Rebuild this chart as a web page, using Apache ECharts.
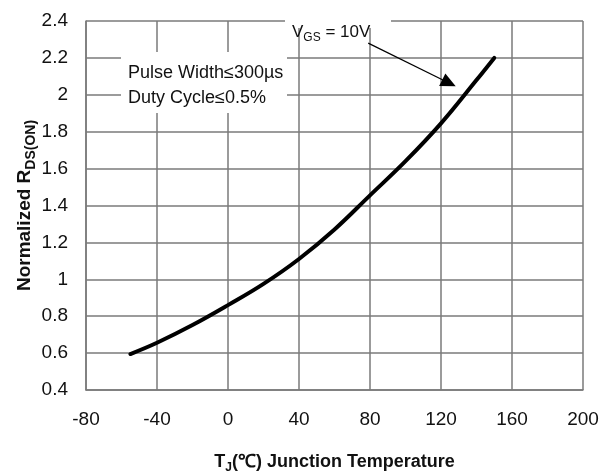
<!DOCTYPE html>
<html>
<head>
<meta charset="utf-8">
<script src="https://cdn.jsdelivr.net/npm/echarts@6/dist/echarts.min.js"></script>
<style>
html,body{margin:0;padding:0;background:#fff;}
#chart{width:611px;height:471px;}
</style>
</head>
<body>
<div id="chart"></div>
<script>
// Data
var temps = [-55, -40, -20, 0, 20, 40, 60, 80, 100, 120, 140, 150];
var rdsNorm = [0.595, 0.656, 0.752, 0.86, 0.975, 1.11, 1.27, 1.455, 1.64, 1.845, 2.08, 2.2];
var xTicks = { min: -80, max: 200, step: 40 };
var yTicks = { min: 0.4, max: 2.4, step: 0.2 };
var arrowFrom = [79, 2.28];
var arrowTo = [124.5, 2.064];
var noteLines = ['Pulse Width≤300µs', 'Duty Cycle≤0.5%'];

var FONT = '"Liberation Sans", Arial, Helvetica, sans-serif';
var GRID = '#7a7a7a';

var chart = echarts.init(document.getElementById('chart'), null, { renderer: 'canvas' });

var option = {
  backgroundColor: '#ffffff',
  animation: false,
  grid: { left: 86, top: 21, right: 28, bottom: 81, show: false, containLabel: false, outerBoundsMode: 'none' },
  xAxis: {
    type: 'value',
    min: xTicks.min, max: xTicks.max, interval: xTicks.step,
    name: '{m|T}{s|J}{m|(℃) Junction Temperature}',
    nameLocation: 'middle',
    nameGap: 60,
    nameTextStyle: {
      rich: {
        m: { fontFamily: FONT, fontSize: 18, fontWeight: 'bold', color: '#111', lineHeight: 24, verticalAlign: 'middle' },
        s: { fontFamily: FONT, fontSize: 12, fontWeight: 'bold', color: '#111', lineHeight: 24, verticalAlign: 'bottom' }
      }
    },
    axisLine: { show: true, onZero: false, lineStyle: { color: GRID, width: 1.5 } },
    axisTick: { show: false },
    axisLabel: { fontFamily: FONT, fontSize: 19, color: '#111', margin: 20 },
    splitLine: { show: true, lineStyle: { color: GRID, width: 1.5 } }
  },
  yAxis: {
    type: 'value',
    min: yTicks.min, max: yTicks.max, interval: yTicks.step,
    name: '{m|Normalized R}{s|DS(ON)}',
    nameLocation: 'middle',
    nameGap: 48,
    nameMoveOverlap: false,
    nameTextStyle: {
      rich: {
        m: { fontFamily: FONT, fontSize: 19, fontWeight: 'bold', color: '#111', lineHeight: 26, verticalAlign: 'middle' },
        s: { fontFamily: FONT, fontSize: 14, fontWeight: 'bold', color: '#111', lineHeight: 26, verticalAlign: 'bottom' }
      }
    },
    axisLine: { show: true, onZero: false, lineStyle: { color: GRID, width: 1.5 } },
    axisTick: { show: false },
    axisLabel: {
      fontFamily: FONT, fontSize: 19, color: '#111', margin: 18,
      formatter: function (v) { return String(parseFloat(v.toFixed(1))); }
    },
    splitLine: { show: true, lineStyle: { color: GRID, width: 1.5 } }
  },
  series: [{
    type: 'line',
    data: temps.map(function (t, i) { return [t, rdsNorm[i]]; }),
    smooth: 0.4,
    showSymbol: false,
    lineStyle: { color: '#000', width: 4, cap: 'round' },
    z: 5,
    markLine: {
      silent: true,
      symbol: ['none', 'triangle'],
      symbolSize: [14, 15],
      label: { show: false },
      lineStyle: { color: '#000', width: 1.2, type: 'solid' },
      data: [[{ coord: arrowFrom }, { coord: arrowTo }]]
    }
  }],
  graphic: [
    { type: 'rect', left: 121, top: 52, shape: { width: 166, height: 61 }, style: { fill: '#fff' }, z: 10, silent: true },
    { type: 'text', left: 128, top: 61, z: 11, silent: true,
      style: { text: noteLines.join('\n'), font: '18px ' + FONT, fill: '#111', lineHeight: 25 } },
    { type: 'rect', left: 285, top: 14, shape: { width: 106, height: 14 }, style: { fill: '#fff' }, z: 10, silent: true },
    { type: 'text', left: 292, top: 24, z: 11, silent: true,
      style: {
        text: '{m|V}{s|GS}{m| = 10V}',
        rich: {
          m: { fontFamily: FONT, fontSize: 17, fill: '#111', lineHeight: 22, verticalAlign: 'middle' },
          s: { fontFamily: FONT, fontSize: 12, fill: '#111', lineHeight: 22, verticalAlign: 'bottom' }
        }
      } }
  ]
};

chart.setOption(option);
</script>
</body>
</html>
